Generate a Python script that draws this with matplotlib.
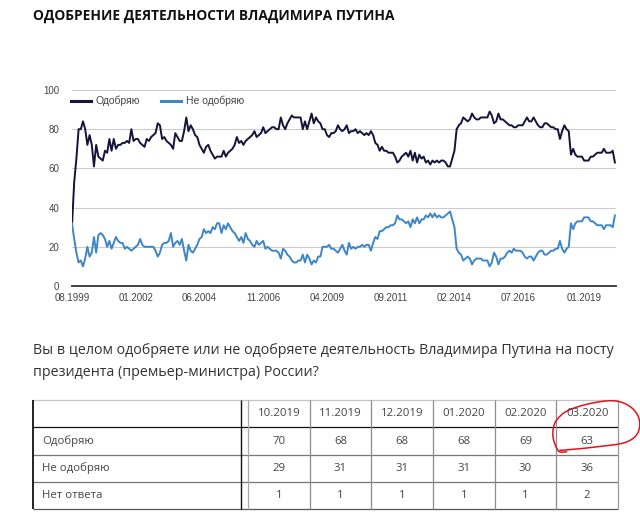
import numpy as np
import matplotlib

matplotlib.use("Agg")
import matplotlib.pyplot as plt

TITLE = "ОДОБРЕНИЕ ДЕЯТЕЛЬНОСТИ ВЛАДИМИРА ПУТИНА"
QUESTION = [
    "Вы в целом одобряете или не одобряете деятельность Владимира Путина на посту",
    "президента (премьер-министра) России?",
]
SERIES = ["Одобряю", "Не одобряю"]

# monthly Levada readings, 08.1999 .. 03.2020 (one row per year)
approve = [
    31, 53, 65, 80, 80,
    84, 80, 72, 77, 72, 61, 72, 66, 65, 64, 69, 68,
    75, 69, 75, 70, 72, 72, 73, 73, 74, 73, 80, 74,
    75, 75, 73, 72, 71, 75, 74, 76, 77, 78, 83, 82,
    75, 76, 74, 73, 72, 70, 78, 76, 74, 74, 79, 86,
    79, 82, 80, 77, 76, 72, 70, 68, 71, 72, 69, 67,
    65, 66, 66, 66, 69, 66, 68, 69, 70, 72, 76, 73,
    74, 72, 74, 75, 76, 77, 79, 76, 77, 78, 81, 78,
    79, 80, 81, 81, 80, 80, 86, 82, 80, 83, 85, 87,
    86, 86, 86, 86, 80, 84, 80, 84, 88, 83, 86, 84,
    83, 80, 80, 77, 76, 78, 78, 79, 82, 80, 79, 80,
    82, 78, 79, 79, 80, 78, 79, 78, 77, 78, 77, 79,
    77, 73, 72, 69, 71, 69, 69, 68, 68, 68, 66, 63,
    64, 66, 67, 68, 66, 69, 64, 68, 63, 67, 65, 66,
    63, 64, 62, 64, 63, 64, 63, 64, 64, 63, 61, 61,
    65, 69, 80, 82, 83, 86, 85, 84, 85, 88, 86, 85,
    85, 86, 86, 86, 86, 89, 87, 83, 84, 88, 85, 85,
    84, 83, 82, 82, 81, 81, 82, 82, 82, 84, 86, 84,
    84, 86, 84, 82, 81, 81, 83, 83, 82, 81, 81, 80,
    80, 75, 79, 82, 80, 79, 67, 70, 67, 66, 66, 66,
    64, 64, 64, 66, 66, 67, 68, 68, 68, 70, 68, 68,
    68, 69, 63,
]
disapprove = [
    32, 24, 17, 12, 13,
    10, 14, 20, 15, 17, 25, 17, 26, 27, 26, 24, 20,
    23, 19, 22, 25, 23, 22, 22, 19, 20, 19, 18, 19,
    20, 21, 24, 21, 20, 20, 20, 20, 20, 18, 15, 17,
    21, 22, 22, 23, 27, 20, 22, 23, 21, 24, 18, 13,
    21, 18, 17, 19, 21, 24, 25, 29, 27, 28, 27, 30,
    29, 32, 32, 27, 31, 29, 32, 30, 28, 27, 25, 23,
    25, 22, 27, 24, 23, 21, 20, 23, 21, 22, 23, 19,
    20, 19, 18, 18, 18, 17, 14, 19, 18, 16, 15, 13,
    12, 12, 13, 13, 16, 12, 16, 14, 11, 13, 12, 15,
    15, 20, 20, 20, 21, 19, 19, 18, 17, 19, 21, 18,
    16, 22, 19, 20, 19, 20, 20, 21, 20, 21, 21, 18,
    22, 25, 24, 28, 28, 29, 30, 30, 31, 31, 32, 36,
    34, 34, 33, 32, 33, 30, 34, 32, 35, 32, 34, 34,
    36, 35, 37, 35, 37, 35, 36, 35, 35, 36, 37, 38,
    34, 30, 19, 17, 16, 13, 14, 15, 14, 11, 13, 14,
    14, 14, 13, 13, 13, 10, 12, 17, 15, 11, 14, 14,
    15, 17, 18, 17, 19, 18, 18, 18, 17, 15, 14, 15,
    15, 13, 15, 17, 18, 18, 16, 16, 17, 18, 18, 19,
    19, 23, 19, 17, 19, 20, 32, 29, 32, 33, 33, 33,
    35, 35, 35, 33, 33, 32, 31, 31, 31, 29, 31, 31,
    31, 30, 36,
]
tick_months = [0, 29, 58, 87, 116, 145, 174, 203, 233]
tick_labels = ["08.1999", "01.2002", "06.2004", "11.2006", "04.2009",
               "09.2011", "02.2014", "07.2016", "01.2019"]

table_cols = ["10.2019", "11.2019", "12.2019", "01.2020", "02.2020", "03.2020"]
table_rows = ["Одобряю", "Не одобряю", "Нет ответа"]
tbl_approve = [70, 68, 68, 68, 69, 63]
tbl_disapprove = [29, 31, 31, 31, 30, 36]
tbl_no_answer = [1, 1, 1, 1, 1, 2]

W, H = 640, 521
fig = plt.figure(figsize=(W / 100, H / 100), dpi=100)

# page layer in pixel coordinates
page = fig.add_axes([0, 0, 1, 1])
page.set_xlim(0, W)
page.set_ylim(H, 0)
page.axis("off")

page.text(33, 16, TITLE, family="Open Sans", weight="bold", fontsize=9.9,
          color="#111111", va="center", ha="left")

for i, line in enumerate(QUESTION):
    page.text(33, 350 + i * 22, line, family="Open Sans", fontsize=10.3,
              color="#333333", va="center", ha="left")

# chart
ax = fig.add_axes([72 / W, 1 - 286 / H, 544 / W, 196 / H])
months = np.arange(len(approve))
ax.plot(months, approve, color="#14143a", lw=1.4, label=SERIES[0], zorder=3)
ax.plot(months, disapprove, color="#3d86c8", lw=1.4, label=SERIES[1], zorder=3)
ax.set_xlim(0, 247.5)
ax.set_ylim(0, 100)
ax.set_yticks([0, 20, 40, 60, 80, 100])
ax.set_xticks(tick_months)
ax.set_xticklabels(tick_labels)
ax.yaxis.grid(True, color="#cccccc", lw=0.8)
ax.set_axisbelow(True)
for s in ["top", "right", "left"]:
    ax.spines[s].set_visible(False)
ax.spines["bottom"].set_color("#333333")
ax.spines["bottom"].set_linewidth(1.3)
ax.spines["bottom"].set_zorder(4)
ax.tick_params(axis="both", length=0, labelsize=7, labelcolor="#444444")
ax.tick_params(axis="y", pad=9)
ax.tick_params(axis="x", pad=5)
for lab in ax.get_xticklabels() + ax.get_yticklabels():
    lab.set_family("Liberation Sans")
leg = ax.legend(loc="center left", bbox_to_anchor=(-0.002, 0.944), ncol=2,
                frameon=False, prop={"family": "Liberation Sans", "size": 7.5},
                handlelength=1.9, handletextpad=0.5, columnspacing=2.0,
                borderaxespad=0, borderpad=0)
for t in leg.get_texts():
    t.set_color("#444444")
for ln in leg.get_lines():
    ln.set_linewidth(2.2)

# table
col_x = [33, 241, 248] + [248 + (618 - 248) * (k + 1) / 6 for k in range(6)]
row_y = [400, 427, 455, 482, 509]
page.hlines(row_y[0], col_x[0], col_x[-1], color="#c4c4c4", lw=0.9)
page.hlines(row_y[1], col_x[0], col_x[-1], color="#111111", lw=0.9)
page.hlines(row_y[2:4], col_x[0], col_x[-1], color="#777777", lw=0.9)
page.hlines(row_y[4], col_x[0], col_x[-1], color="#555555", lw=0.9)
page.vlines(col_x[0], row_y[0], row_y[-1], color="#111111", lw=1.3)
page.vlines(col_x[1], row_y[0], row_y[-1], color="#111111", lw=1.0)
page.vlines(col_x[2], row_y[0], row_y[-1], color="#aaaaaa", lw=0.9)
page.vlines(col_x[3:-1], row_y[0], row_y[-1], color="#8c8c8c", lw=0.9)
page.vlines(col_x[-1], row_y[0], row_y[-1], color="#999999", lw=0.9)

cell_font = dict(family="Open Sans", fontsize=8.2, color="#444444", va="center")
for k, name in enumerate(table_cols):
    cx = (col_x[k + 2] + col_x[k + 3]) / 2
    page.text(cx, (row_y[0] + row_y[1]) / 2, name, ha="center", **cell_font)
for r, (name, vals) in enumerate(zip(table_rows, [tbl_approve, tbl_disapprove, tbl_no_answer])):
    cy = (row_y[r + 1] + row_y[r + 2]) / 2
    page.text(42, cy, name, ha="left", **cell_font)
    for k, v in enumerate(vals):
        cx = (col_x[k + 2] + col_x[k + 3]) / 2
        page.text(cx, cy, str(v), ha="center", **cell_font)

# hand drawn red loop round the last column
loop = np.array([
    (566.7, 451.7), (559.3, 451.7), (555.3, 445.0), (553.0, 436.7),
    (553.3, 428.3), (556.0, 421.0), (563.3, 413.3), (573.3, 408.3),
    (586.7, 404.3), (600.0, 401.7), (611.7, 400.7), (621.7, 402.3),
    (630.7, 407.0), (637.0, 414.0), (639.7, 422.3), (638.7, 430.7),
    (634.7, 437.0), (627.3, 441.7), (617.3, 444.3), (604.0, 446.0),
    (590.0, 447.7), (576.7, 449.0), (566.0, 450.0), (560.0, 450.3),
])


def smooth(points, steps=8):
    out = []
    p = np.vstack([points[0], points, points[-1]])
    for i in range(1, len(p) - 2):
        p0, p1, p2, p3 = p[i - 1], p[i], p[i + 1], p[i + 2]
        for t in np.linspace(0, 1, steps, endpoint=False):
            out.append(0.5 * ((2 * p1) + (-p0 + p2) * t
                              + (2 * p0 - 5 * p1 + 4 * p2 - p3) * t ** 2
                              + (-p0 + 3 * p1 - 3 * p2 + p3) * t ** 3))
    out.append(p[-2])
    return np.array(out)


curve = smooth(loop)
page.plot(curve[:, 0], curve[:, 1], color="#e3121b", lw=1.1, solid_capstyle="round")

fig.savefig("out.png", dpi=100)
